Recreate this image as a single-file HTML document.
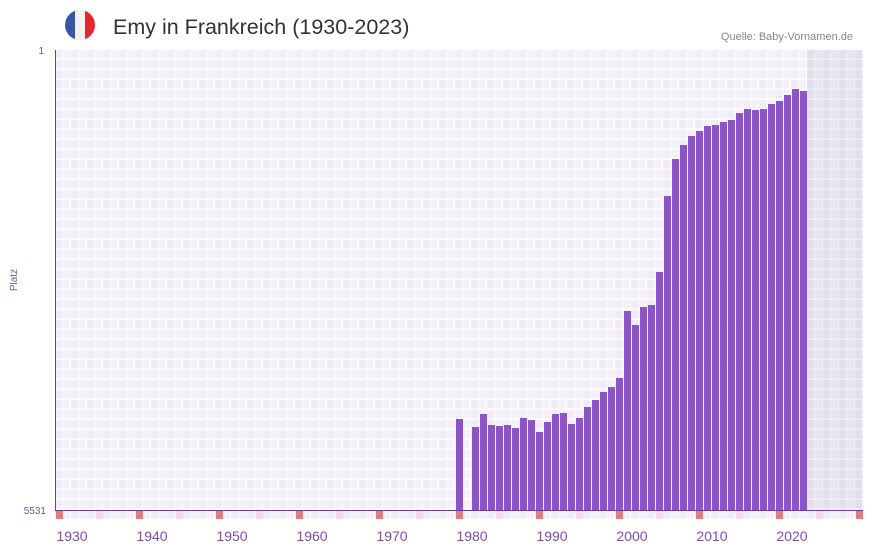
<!DOCTYPE html>
<html><head><meta charset="utf-8"><style>
body{margin:0;width:873px;height:552px;background:#fff;font-family:"Liberation Sans",sans-serif;overflow:hidden}
</style></head><body>
<svg width="873" height="552" xmlns="http://www.w3.org/2000/svg">
<defs>
<pattern id="g" x="55" y="50" width="16" height="10" patternUnits="userSpaceOnUse">
<rect width="16" height="10" fill="#fff"/>
<rect x="0" y="0" width="7" height="8.5" fill="#f0ebf8"/>
<rect x="8" y="0" width="7" height="8.5" fill="#f4f1fb"/>
</pattern>
<pattern id="gs" x="55" y="50" width="16" height="10" patternUnits="userSpaceOnUse">
<rect width="16" height="10" fill="#f0eef4"/>
<rect x="0" y="0" width="7" height="8.5" fill="#e3deed"/>
<rect x="8" y="0" width="7" height="8.5" fill="#e7e3f0"/>
</pattern>
<clipPath id="fl"><circle cx="80" cy="25" r="15"/></clipPath>
</defs>
<g clip-path="url(#fl)"><rect x="65" y="10" width="10" height="30" fill="#3a55a5"/><rect x="75" y="10" width="10" height="30" fill="#f2f2f2"/><rect x="85" y="10" width="10" height="30" fill="#e52530"/></g>
<text x="113" y="34" font-size="21.5" fill="#333">Emy in Frankreich (1930-2023)</text>
<text x="853" y="40" font-size="11" fill="#888" text-anchor="end">Quelle: Baby-Vornamen.de</text>
<rect x="55" y="50" width="752" height="460" fill="url(#g)"/>
<rect x="807" y="50" width="56" height="460" fill="url(#gs)"/>
<rect x="55" y="511" width="808" height="9" fill="url(#g)"/>
<line x1="55.5" y1="50" x2="55.5" y2="511" stroke="#6a3d9a" stroke-width="1"/>
<text x="44" y="54" font-size="10" fill="#7a4fa8" text-anchor="end">1</text>
<text x="46" y="514" font-size="10" fill="#7a4fa8" text-anchor="end">5531</text>
<text x="17" y="280" font-size="10" fill="#7a4fa8" text-anchor="middle" transform="rotate(-90 17 280)">Platz</text>
<g fill="#8b55c8">
<rect x="456" y="419" width="7" height="91"/>
<rect x="472" y="427" width="7" height="83"/>
<rect x="480" y="414" width="7" height="96"/>
<rect x="488" y="425" width="7" height="85"/>
<rect x="496" y="426" width="7" height="84"/>
<rect x="504" y="425" width="7" height="85"/>
<rect x="512" y="428" width="7" height="82"/>
<rect x="520" y="418" width="7" height="92"/>
<rect x="528" y="420" width="7" height="90"/>
<rect x="536" y="432" width="7" height="78"/>
<rect x="544" y="422" width="7" height="88"/>
<rect x="552" y="414" width="7" height="96"/>
<rect x="560" y="413" width="7" height="97"/>
<rect x="568" y="424" width="7" height="86"/>
<rect x="576" y="418" width="7" height="92"/>
<rect x="584" y="407" width="7" height="103"/>
<rect x="592" y="400" width="7" height="110"/>
<rect x="600" y="392" width="7" height="118"/>
<rect x="608" y="387" width="7" height="123"/>
<rect x="616" y="378" width="7" height="132"/>
<rect x="624" y="311" width="7" height="199"/>
<rect x="632" y="325" width="7" height="185"/>
<rect x="640" y="307" width="7" height="203"/>
<rect x="648" y="305" width="7" height="205"/>
<rect x="656" y="272" width="7" height="238"/>
<rect x="664" y="196" width="7" height="314"/>
<rect x="672" y="159" width="7" height="351"/>
<rect x="680" y="145" width="7" height="365"/>
<rect x="688" y="136" width="7" height="374"/>
<rect x="696" y="131" width="7" height="379"/>
<rect x="704" y="126" width="7" height="384"/>
<rect x="712" y="125" width="7" height="385"/>
<rect x="720" y="122" width="7" height="388"/>
<rect x="728" y="120" width="7" height="390"/>
<rect x="736" y="113" width="7" height="397"/>
<rect x="744" y="109" width="7" height="401"/>
<rect x="752" y="110" width="7" height="400"/>
<rect x="760" y="109" width="7" height="401"/>
<rect x="768" y="104" width="7" height="406"/>
<rect x="776" y="101" width="7" height="409"/>
<rect x="784" y="95" width="7" height="415"/>
<rect x="792" y="89" width="7" height="421"/>
<rect x="800" y="91" width="7" height="419"/>
</g>
<line x1="55" y1="510.5" x2="863" y2="510.5" stroke="#6a3d9a" stroke-width="1"/>
<g fill="#e37a82">
<rect x="56" y="511" width="7" height="8"/><rect x="136" y="511" width="7" height="8"/><rect x="216" y="511" width="7" height="8"/><rect x="296" y="511" width="7" height="8"/><rect x="376" y="511" width="7" height="8"/><rect x="456" y="511" width="7" height="8"/><rect x="536" y="511" width="7" height="8"/><rect x="616" y="511" width="7" height="8"/><rect x="696" y="511" width="7" height="8"/><rect x="776" y="511" width="7" height="8"/><rect x="856" y="511" width="7" height="8"/>
</g>
<g fill="#f5d8e2">
<rect x="96" y="511" width="7" height="8"/><rect x="176" y="511" width="7" height="8"/><rect x="256" y="511" width="7" height="8"/><rect x="336" y="511" width="7" height="8"/><rect x="416" y="511" width="7" height="8"/><rect x="496" y="511" width="7" height="8"/><rect x="576" y="511" width="7" height="8"/><rect x="656" y="511" width="7" height="8"/><rect x="736" y="511" width="7" height="8"/><rect x="816" y="511" width="7" height="8"/>
</g>
<g font-size="14" fill="#7a4fa8" text-anchor="middle">
<text x="72" y="541">1930</text><text x="152" y="541">1940</text><text x="232" y="541">1950</text><text x="312" y="541">1960</text><text x="392" y="541">1970</text><text x="472" y="541">1980</text><text x="552" y="541">1990</text><text x="632" y="541">2000</text><text x="712" y="541">2010</text><text x="792" y="541">2020</text>
</g>
</svg>
</body></html>
